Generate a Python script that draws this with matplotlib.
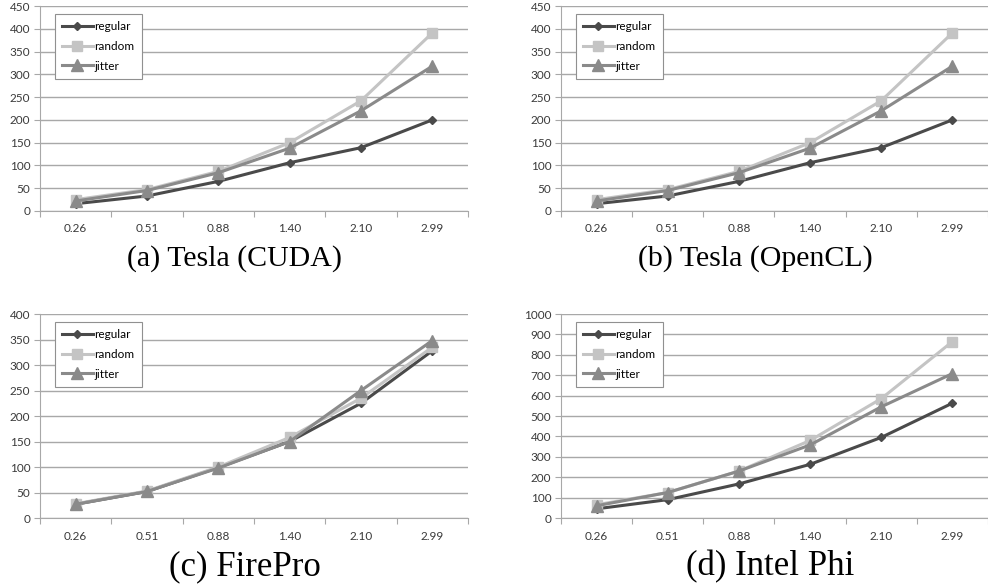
import numpy as np
import matplotlib.pyplot as plt

# sample sizes (categories on the x axis)
sizes = ['0.26', '0.51', '0.88', '1.40', '2.10', '2.99']

# (a) Tesla (CUDA)
cuda_regular = [16, 33, 65, 106, 139, 200]
cuda_random = [25, 47, 87, 150, 242, 391]
cuda_jitter = [22, 45, 84, 138, 220, 318]

# (b) Tesla (OpenCL)
ocl_regular = [16, 33, 65, 106, 139, 200]
ocl_random = [25, 47, 87, 150, 242, 391]
ocl_jitter = [22, 45, 84, 138, 220, 318]

# (c) FirePro
fire_regular = [27, 52, 99, 150, 225, 328]
fire_random = [28, 53, 100, 158, 235, 335]
fire_jitter = [27, 52, 98, 150, 250, 348]

# (d) Intel Phi
phi_regular = [45, 90, 167, 263, 395, 563]
phi_random = [65, 125, 230, 380, 585, 865]
phi_jitter = [60, 125, 230, 358, 545, 708]

fig = plt.figure(figsize=(9.88, 5.84), dpi=100)

panels = [
    # rect, data, ymax, ystep, caption, caption position, caption size
    ([0.0405, 0.6387, 0.4332, 0.351], (cuda_regular, cuda_random, cuda_jitter), 450, 50,
     '(a) Tesla (CUDA)', (0.237, 0.558), 21.5),
    ([0.5678, 0.6387, 0.4322, 0.351], (ocl_regular, ocl_random, ocl_jitter), 450, 50,
     '(b) Tesla (OpenCL)', (0.765, 0.558), 21.5),
    ([0.0405, 0.1130, 0.4332, 0.3493], (fire_regular, fire_random, fire_jitter), 400, 50,
     '(c) FirePro', (0.248, 0.029), 25),
    ([0.5678, 0.1130, 0.4322, 0.3493], (phi_regular, phi_random, phi_jitter), 1000, 100,
     '(d) Intel Phi', (0.779, 0.029), 25),
]

styles = [
    ('regular', '#4a4a4a', 'D', 4.5),
    ('random', '#c4c4c4', 's', 7),
    ('jitter', '#8a8a8a', '^', 8),
]

x = np.arange(len(sizes))
grid_col = '#a8a8a8'

for rect, series, ymax, ystep, caption, cpos, csize in panels:
    ax = fig.add_axes(rect)
    for (name, col, mk, ms), vals in zip(styles, series):
        ax.plot(x, vals, color=col, marker=mk, markersize=ms, linewidth=2.2,
                label=name, zorder=3)
    ax.set_xlim(-0.5, len(sizes) - 0.5)
    ax.set_ylim(0, ymax)
    ax.set_yticks(np.arange(0, ymax + 1, ystep))
    ax.set_xticks(np.arange(-0.5, len(sizes)), labels=[])
    ax.set_xticks(x, labels=sizes, minor=True)
    ax.tick_params(axis='x', which='major', direction='out', length=4, color=grid_col)
    ax.tick_params(axis='x', which='minor', length=0, pad=9, labelsize=8.5, labelcolor='#3a3a3a')
    ax.tick_params(axis='y', direction='out', length=4, color=grid_col, pad=3,
                   labelsize=8.5, labelcolor='#3a3a3a')
    for lab in ax.get_xticklabels(minor=True) + ax.get_yticklabels():
        lab.set_family('Lato')
    ax.yaxis.grid(True, color=grid_col, linewidth=1)
    ax.set_axisbelow(True)
    for s in ['top', 'right']:
        ax.spines[s].set_visible(False)
    for s in ['left', 'bottom']:
        ax.spines[s].set_color(grid_col)
    leg = ax.legend(loc='upper left', bbox_to_anchor=(0.035, 0.962), borderaxespad=0,
                    fancybox=False, framealpha=1, edgecolor='#909090',
                    prop={'family': 'Lato', 'size': 8.5},
                    handlelength=2.6, handletextpad=0.15, borderpad=0.6, labelspacing=0.75)
    leg.get_frame().set_linewidth(0.8)
    fig.text(cpos[0], cpos[1], caption, ha='center', va='center',
             family='Liberation Serif', fontsize=csize)

fig.savefig('out.png', dpi=100)
